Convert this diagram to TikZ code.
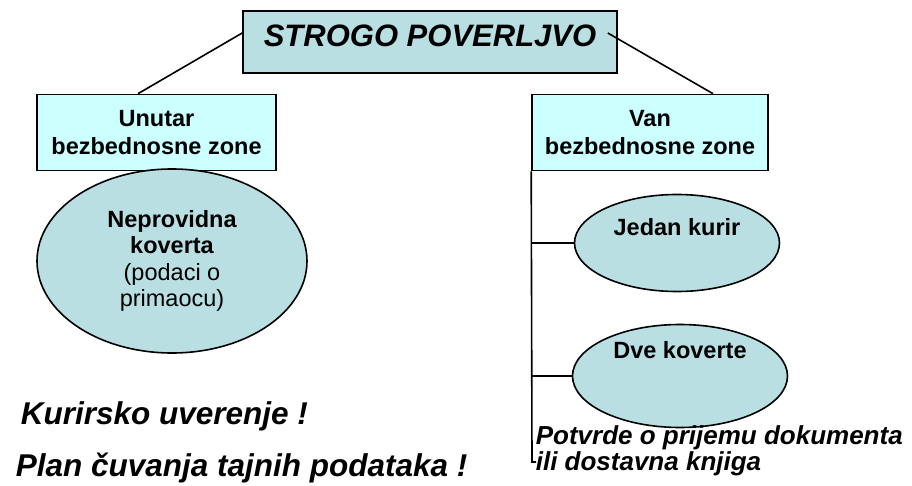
\documentclass[tikz,border=0pt]{standalone}
\usepackage{fontspec}
\setmainfont{Liberation Sans}
\usetikzlibrary{shapes.geometric}
\definecolor{zonecyan}{RGB}{204,255,255}
\definecolor{ovalblue}{RGB}{185,223,226}

\begin{document}
\begin{tikzpicture}[x=1pt, y=-1pt, line width=1.6pt,
   zone/.style={draw, fill=zonecyan, minimum width=236pt, minimum height=76pt, align=center,
     font=\bfseries\fontsize{23.5}{27.5}\selectfont},
   note/.style={inner sep=0pt, anchor=base west, font=\bfseries\itshape\fontsize{31.5}{36}\selectfont}]
   \useasboundingbox (0,0) rectangle (912,486);
   \node (title) [draw, fill=ovalblue, minimum width=374pt, inner sep=0pt, text height=36pt, text depth=26pt,
     font=\bfseries\itshape\fontsize{31}{36}\selectfont] at (430,42) {STROGO POVERLJVO};
   \node (unutar) [zone, minimum width=239pt] at (156.5,132.5) {Unutar\\bezbednosne zone};
   \node (van) [zone] at (650,132.5) {Van\\bezbednosne zone};
 \begin{scope}[every node/.style={ellipse, draw, fill=ovalblue, inner sep=0pt, align=center,
     font=\bfseries\fontsize{23.5}{26.5}\selectfont}]
   \node (koverta) [minimum width=270pt, minimum height=184pt] at (172,261)
     {Neprovidna\\koverta\\{\mdseries(podaci o}\\{\mdseries primaocu)}};
   \node (kurir) [minimum width=205pt, minimum height=97pt, text height=20pt, text depth=35pt] at (677,243) {Jedan kurir};
   \node (dve) [minimum width=215pt, minimum height=103pt, text height=15pt, text depth=50pt] at (680,376) {Dve koverte};
 \end{scope}
   \node (kurirsko) [note] at (20,424) {Kurirsko uverenje !};
   \node (plan) [note] at (15,476) {Plan čuvanja tajnih podataka !};
   \node (potvrde) [inner sep=0pt, anchor=base west, align=left,
     font=\bfseries\itshape\fontsize{26}{23}\selectfont] at (535,470) {Potvrde o prijemu dokumenta\\ili dostavna knjiga};
   \coordinate (vanend) at (532,462);
   \draw ([yshift=9pt]title.west) -- ([xshift=-18.5pt]unutar.north);
   \draw ([xshift=-10pt, yshift=9pt]title.east) -- ([xshift=63pt]van.north);
   \draw (van.south west) -- (vanend) -- ++(4,0);
   \draw (van.south west |- kurir.west) -- (kurir.west);
   \draw (van.south west |- dve.west) -- (dve.west);
 \end{tikzpicture}
\end{document}
